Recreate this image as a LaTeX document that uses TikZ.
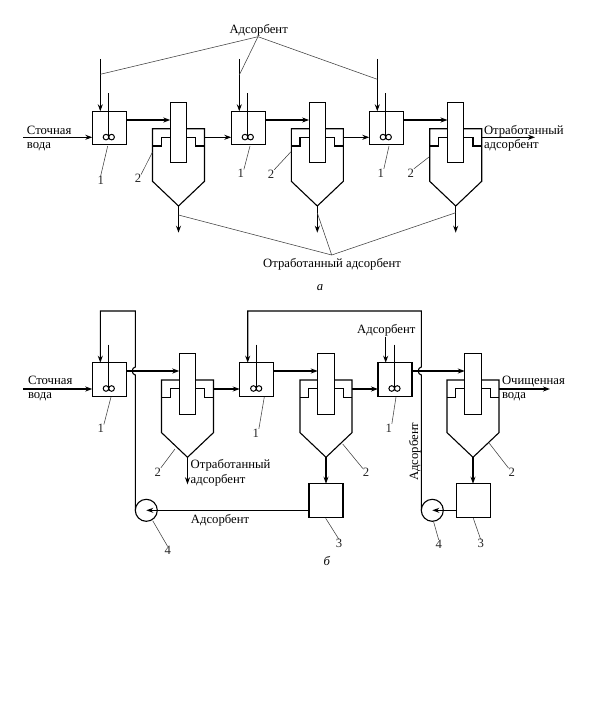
\documentclass[tikz,border=0pt]{standalone}
\usepackage{fontspec}
\setmainfont{Liberation Serif}
\usetikzlibrary{arrows.meta}
\tikzset{
  pipe/.style={line width=1.1pt,line join=miter},
  flow/.style={pipe,-{Stealth[length=7pt,width=5pt]}},
  rflow/.style={pipe,{Stealth[length=7pt,width=5pt]}-},
  lead/.style={line width=.55pt,draw=black!75},
  vessel/.style={draw,line width=1.1pt,inner sep=0pt,outer sep=0pt,rectangle},
  mixer/.style={vessel,minimum width=34pt,minimum height=33.6pt},
  tube/.style={vessel,fill=white,minimum width=16.4pt,minimum height=60.6pt},
  box/.style={vessel,minimum width=34pt,minimum height=34pt},
  pump/.style={draw,circle,line width=1.1pt,fill=white,minimum size=22pt,inner sep=0pt,outer sep=0pt},
  lab/.style={font=\fontsize{12.7}{12.7}\selectfont,inner sep=0pt,outer sep=0pt},
  txt/.style={lab,anchor=base west},
  ctxt/.style={lab,anchor=base},
  tag/.style={lab,text=black!85},
}
% mixer: #1 name, #2 left x, #3 top y
\newcommand{\mixr}[3]{%
  \node[mixer,anchor=north west] (#1) at (#2,#3) {};
  \coordinate (#1s) at ([xshift=-.5pt]#1.north);
  \draw[pipe] (#1s) ++(0,-18) -- ++(0,18+25.5);
  \draw[line width=1pt] (#1s) ++(-2.8,25.8) circle (2.8) ++(5.6,0) circle (2.8);
}
% clarifier: #1 name, #2 centre x, #3 top y
\newcommand{\clar}[3]{%
  \node[tube,anchor=north] (#1) at (#2,#3-26.4) {};
  \draw[pipe] (#2-8.2,#3) -- (#2-26,#3) coordinate (#1L) -- (#2-26,#3+52.6) -- (#2,#3+77.3) coordinate (#1A)
     -- (#2+26,#3+52.6) -- (#2+26,#3) coordinate (#1R) -- (#2+8.2,#3);
  \draw[pipe] (#2-26,#3+17.3) -- (#2-17.3,#3+17.3) -- (#2-17.3,#3+8.6) -- (#2-8.2,#3+8.6);
  \draw[pipe] (#2+26,#3+17.3) -- (#2+17.3,#3+17.3) -- (#2+17.3,#3+8.6) -- (#2+8.2,#3+8.6);
}
\begin{document}
\begin{tikzpicture}[x=1pt,y=-1pt]
\useasboundingbox[fill=white] (0,0) rectangle (594,706);
%%% ---------- a ----------
\coordinate (ra) at (0,120);
\coordinate (rb) at (0,137.3);
\mixr{ma}{92.3}{111.3}
\mixr{mb}{231.3}{111.3}
\mixr{mc}{369.3}{111.3}
\clar{ca}{178.5}{128.7}
\clar{cb}{317.3}{128.7}
\clar{cc}{455.7}{128.7}
\coordinate (ina) at (23,137.3);
\coordinate (outa) at (535,137.3);
\coordinate (fa) at (100.3,59);
\coordinate (fb) at (239.3,59);
\coordinate (fc) at (377.3,59);
\draw[flow] (ina) -- (ma.west |- rb);
\draw[flow] (fa) -- (fa |- ma.north);
\draw[flow] (fb) -- (fb |- mb.north);
\draw[flow] (fc) -- (fc |- mc.north);
\draw[flow] (ma.east |- ra) -- (ca.west |- ra);
\draw[flow] (mb.east |- ra) -- (cb.west |- ra);
\draw[flow] (mc.east |- ra) -- (cc.west |- ra);
\draw[flow] (caR |- rb) -- (mb.west |- rb);
\draw[flow] (cbR |- rb) -- (mc.west |- rb);
\draw[flow] (ccR |- rb) -- (outa);
\draw[flow] (caA) -- ++(0,26.7);
\draw[flow] (cbA) -- ++(0,26.7);
\draw[flow] (ccA) -- ++(0,26.7);
\node[ctxt] (ads) at (258.7,33.5) {Адсорбент};
\coordinate (adsp) at (258,36.7);
\draw[lead] (adsp) -- (fa |- 0,74.3);
\draw[lead] (adsp) -- (fb |- 0,75);
\draw[lead] (adsp) -- (fc |- 0,79.3);
\node[ctxt] (otr) at (332,267.7) {Отработанный адсорбент};
\coordinate (otrp) at (331.7,255);
\draw[lead] (otrp) -- (caA |- 0,215);
\draw[lead] (otrp) -- (cbA |- 0,213);
\draw[lead] (otrp) -- (ccA |- 0,212.7);
\node[txt] (sa) at (27,134.3) {Сточная};
\node[txt] (sb) at (27,148.7) {вода};
\node[txt] (oa) at (484,134.7) {Отработанный};
\node[txt] (ob) at (484,148.7) {адсорбент};
\node[ctxt,font=\fontsize{12.7}{12.7}\selectfont\itshape] (capa) at (320,290) {а};
% tags a
\node[tag] (t1) at (100.7,180) {1};
\draw[lead] (107.7,146) -- (t1.north);
\node[tag] (t2) at (138,178.7) {2};
\draw[lead] (152.3,152.3) -- (t2.north east);
\node[tag] (t3) at (240.7,173.7) {1};
\draw[lead] (250,146) -- (t3.north east);
\node[tag] (t4) at (271,174) {2};
\draw[lead] (291,151.7) -- (t4.north east);
\node[tag] (t5) at (380.7,173) {1};
\draw[lead] (389,146) -- (t5.north east);
\node[tag] (t6) at (410.7,173) {2};
\draw[lead] (429,157) -- (t6.north east);
%%% ---------- b ----------
\coordinate (rc) at (0,371);
\coordinate (rd) at (0,389);
\coordinate (re) at (0,510.3);
\mixr{md}{92.3}{362.7}
\mixr{me}{239.7}{362.7}
\mixr{mf}{378}{362.7}
\clar{cd}{187.5}{380}
\clar{ce}{326}{380}
\clar{cf}{473}{380}
\node[box,anchor=north west] (bd) at (309,483.7) {};
\node[box,anchor=north west] (be) at (456.3,483.7) {};
\node[pump] (pd) at (146.3,510.3) {};
\node[pump] (pe) at (432.3,510.3) {};
\coordinate (ind) at (23,389);
\coordinate (oute) at (550,389);
\coordinate (fd) at (100.3,311);
\coordinate (fe) at (247.7,311);
\coordinate (ff) at (385.7,336.7);
\draw[flow] (ind) -- (md.west |- rd);
\draw[flow] (md.east |- rc) -- (cd.west |- rc);
\draw[flow] (me.east |- rc) -- (ce.west |- rc);
\draw[flow] (mf.east |- rc) -- (cf.west |- rc);
\draw[flow] (cdR |- rd) -- (me.west |- rd);
\draw[flow] (ceR |- rd) -- (mf.west |- rd);
\draw[flow] (cfR |- rd) -- (oute);
\draw[flow] (cdA) -- ++(0,27);
\draw[flow] (ceA) -- (ceA |- bd.north);
\draw[flow] (cfA) -- (cfA |- be.north);
\draw[flow] (ff) -- (ff |- mf.north);
% recycle lines with a hop over the mixer outlet
\draw[rflow] (fd |- md.north) -- (fd) -- (pd.west |- fd) -- (pd.west |- 0,367)
  .. controls ([xshift=-4pt]pd.west |- 0,367.5) and ([xshift=-4pt]pd.west |- 0,374.5) .. (pd.west |- 0,375) -- (pd.west);
\draw[rflow] (fe |- me.north) -- (fe) -- (pe.west |- fe) -- (pe.west |- 0,367)
  .. controls ([xshift=-4pt]pe.west |- 0,367.5) and ([xshift=-4pt]pe.west |- 0,374.5) .. (pe.west |- 0,375) -- (pe.west);
\draw[flow] (bd.west |- re) -- (pd.center);
\draw[flow] (be.west |- re) -- (pe.center);
\node[ctxt] (adc) at (386.3,333.3) {Адсорбент};
\node[ctxt] (add) at (220,523.3) {Адсорбент};
\node[ctxt,rotate=90] (ade) at (418,451.7) {Адсорбент};
\node[txt] (sc) at (28,384) {Сточная};
\node[txt] (sd) at (28,398.3) {вода};
\node[txt] (oc) at (190.7,468.3) {Отработанный};
\node[txt] (od) at (190.7,483.7) {адсорбент};
\node[txt] (qa) at (502,384) {Очищенная};
\node[txt] (qb) at (502,398.3) {вода};
\node[ctxt,font=\fontsize{12.7}{12.7}\selectfont\itshape] (capb) at (326.7,565) {б};
% tags b
\node[tag] (u1) at (100.7,428.7) {1};
\draw[lead] (111,397) -- (u1.north east);
\node[tag] (u2) at (157.7,472) {2};
\draw[lead] (175,449) -- (u2.north east);
\node[tag] (u3) at (255.7,433) {1};
\draw[lead] (264.3,397) -- (u3.north east);
\node[tag] (u4) at (388.7,428) {1};
\draw[lead] (396,397) -- (u4.north east);
\node[tag] (u5) at (366,472.7) {2};
\draw[lead] (342.7,444) -- (u5.north west);
\node[tag] (u6) at (511.7,472.3) {2};
\draw[lead] (489.3,443.3) -- (u6.north west);
\node[tag] (u7) at (339,543.7) {3};
\draw[lead] (325.7,518.3) -- (u7.north);
\node[tag] (u8) at (480.7,543.7) {3};
\draw[lead] (473.3,518.3) -- (u8.north);
\node[tag] (u9) at (438.7,544) {4};
\draw[lead] (433.3,520.7) -- (u9.north);
\node[tag] (u10) at (167.7,550.7) {4};
\draw[lead] (152.7,520.7) -- (u10.north);
\end{tikzpicture}
\end{document}
